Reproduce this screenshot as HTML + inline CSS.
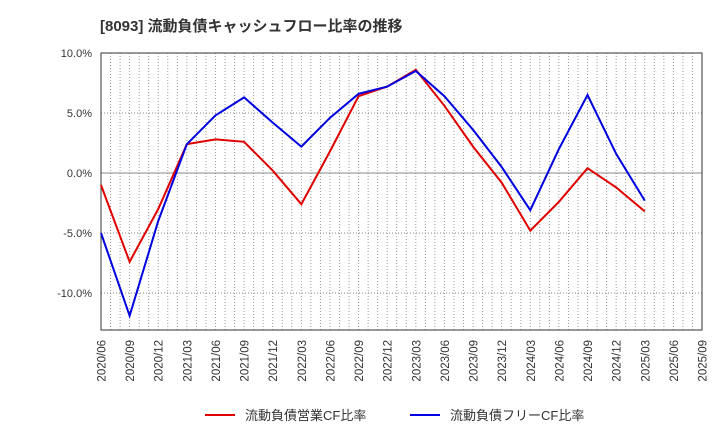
<!DOCTYPE html>
<html><head><meta charset="utf-8"><style>
body{margin:0;background:#fff;}
svg{display:block;font-family:"Liberation Sans","Noto Sans CJK JP",sans-serif;}
</style></head><body>
<svg width="720" height="440" xmlns="http://www.w3.org/2000/svg">
<text x="100" y="31" font-size="15" font-weight="bold" fill="#333">[8093]  流動負債キャッシュフロー比率の推移</text>
<g id="grid"></g>
<rect x="101" y="53" width="601" height="277" fill="none" stroke="#333" stroke-width="1"/>
<g font-size="11" fill="#333" text-anchor="end" id="yl"></g>
<g font-size="11.5" fill="#333" id="xl"></g>
<polyline id="red" fill="none" stroke="#e00000" stroke-width="2"/>
<polyline id="blue" fill="none" stroke="#0000e0" stroke-width="2"/>
<line x1="205" y1="415" x2="235" y2="415" stroke="#e00000" stroke-width="2"/>
<text x="245" y="420" font-size="13" fill="#333">流動負債営業CF比率</text>
<line x1="410" y1="415" x2="440" y2="415" stroke="#0000e0" stroke-width="2"/>
<text x="450" y="420" font-size="13" fill="#333">流動負債フリーCF比率</text>
</svg>
<script>
const ns="http://www.w3.org/2000/svg";
const X=i=>101+i*601/21, Y=v=>173-v*12;
const g=document.getElementById('grid');
function ln(x1,y1,x2,y2,st,da){const l=document.createElementNS(ns,'line');l.setAttribute('x1',x1);l.setAttribute('y1',y1);l.setAttribute('x2',x2);l.setAttribute('y2',y2);l.setAttribute('stroke',st);if(da)l.setAttribute('stroke-dasharray',da);g.appendChild(l);}
for(let i=1;i<63;i++)ln(X(i/3),53,X(i/3),330,'#999','1,2');
[10,5,-5,-10].forEach(v=>ln(101,Y(v),702,Y(v),'#888','1,2'));
ln(101,Y(0),702,Y(0),'#888');
const yl=document.getElementById('yl');
[10,5,0,-5,-10].forEach(v=>{const t=document.createElementNS(ns,'text');t.setAttribute('x',92);t.setAttribute('y',Y(v)+4);t.textContent=v.toFixed(1)+'%';yl.appendChild(t);});
const xl=document.getElementById('xl');
for(let i=0;i<22;i++){const m=6+i*3,yr=2020+Math.floor((m-1)/12),mm=((m-1)%12)+1;const t=document.createElementNS(ns,'text');const x=X(i)+4.5,y=340;t.setAttribute('transform',`translate(${x},${y}) rotate(-90)`);t.setAttribute('text-anchor','end');t.textContent=yr+'/'+String(mm).padStart(2,'0');xl.appendChild(t);}
const red=[-1.0,-7.4,-3.0,2.4,2.8,2.6,0.2,-2.6,1.8,6.4,7.2,8.6,5.6,2.2,-0.8,-4.8,-2.4,0.4,-1.2,-3.2];
const blue=[-5.0,-11.9,-4.0,2.4,4.8,6.3,4.2,2.2,4.6,6.6,7.2,8.5,6.4,3.6,0.5,-3.1,2.0,6.5,1.6,-2.3];
const pts=a=>a.map((v,i)=>X(i)+','+Y(v)).join(' ');
document.getElementById('red').setAttribute('points',pts(red));
document.getElementById('blue').setAttribute('points',pts(blue));
</script>
</body></html>
